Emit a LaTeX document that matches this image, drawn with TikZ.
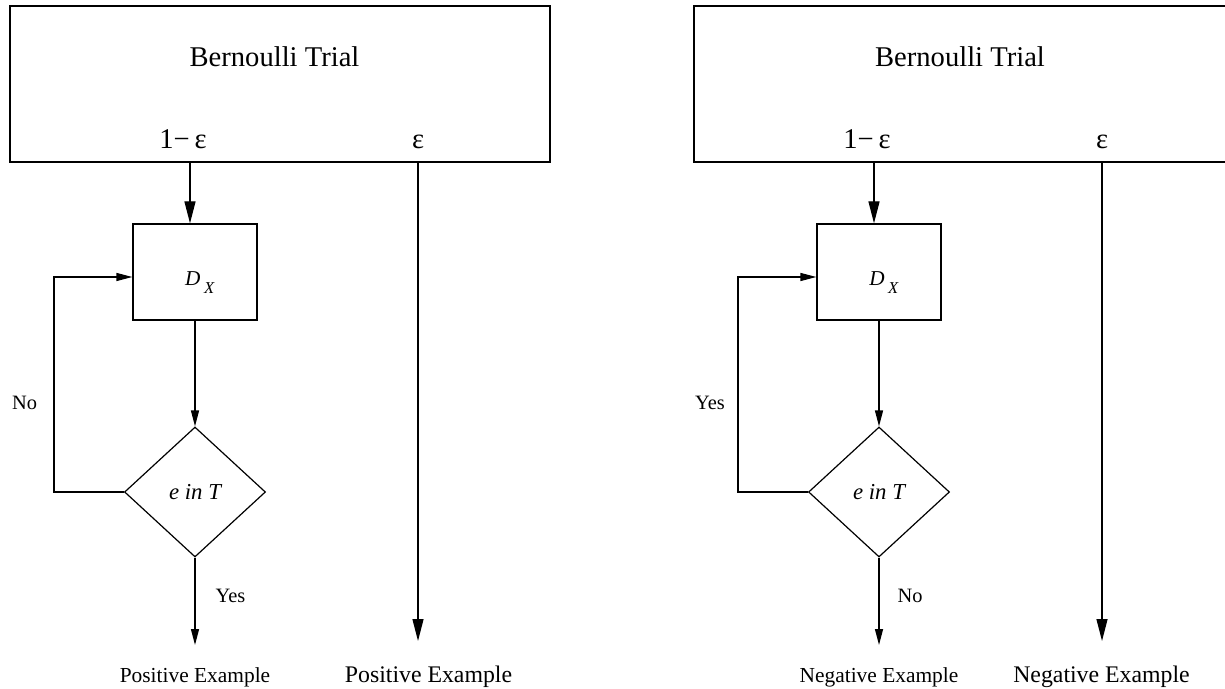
\documentclass[tikz,border=0pt]{standalone}
\usepackage{fontspec}
\setmainfont{Liberation Serif}
\usepackage{tikz}
\usetikzlibrary{shapes.geometric,arrows.meta}

\begin{document}
\begin{tikzpicture}[x=0.5pt,y=-0.5pt,
    trial/.style={rectangle,draw,line width=0.9pt,minimum width=270pt,minimum height=78pt,inner sep=0pt},
    sample/.style={rectangle,draw,line width=0.65pt,minimum width=62pt,minimum height=48pt,inner sep=0pt},
    test/.style={diamond,draw,line width=0.6pt,minimum width=70.5pt,minimum height=65pt,inner sep=0pt,
      font=\fontsize{11.4}{12}\selectfont\itshape},
    lbl/.style={anchor=base,inner sep=0pt},
    big/.style={font=\fontsize{14.3}{16}\selectfont},
    arr/.style={line width=0.65pt,-{Triangle[length=8pt,width=4pt]}},
    bigarr/.style={line width=0.65pt,-{Triangle[length=11pt,width=5.5pt]}}]
\useasboundingbox (0,0) rectangle (1225,689);
% left: positive examples
\node[trial] (trialL) at (280,84) {};
\node[lbl,big] (titleL) at (274.5,67) {Bernoulli Trial};
\node[lbl,big] (oneL) at (183,149) {1−\,ε};
\node[lbl,big] (epsL) at (418,149) {ε};
\node[sample] (dxL) at (195,272) {};
\node[lbl,font=\fontsize{10.6}{12}\selectfont] (dxtL) at (200,286) {\textit{D}\,\raisebox{-4pt}{\fontsize{8.3}{9}\selectfont\textit{X}}};
\node[test] (dL) at (195,492) {e in T};
\coordinate (backL) at (54,277);
\coordinate (endL) at (195,645);
\coordinate (epsendL) at (418,641);
\node[lbl,font=\fontsize{10.2}{12}\selectfont] (noL) at (24.5,409) {No};
\node[lbl,font=\fontsize{10.2}{12}\selectfont] (yesL) at (230.5,602) {Yes};
\node[lbl,font=\fontsize{10.7}{12}\selectfont] (posL) at (195,682) {Positive Example};
\node[lbl,font=\fontsize{11.9}{13}\selectfont] (posepsL) at (428.5,682) {Positive Example};
\draw[bigarr] ([xshift=-2.5pt]dxL.north |- trialL.south) -- ([xshift=-2.5pt]dxL.north);
\draw[arr] (dxL.south) -- (dL.north);
\draw[arr] (dL.west) -| (backL) -- (dxL.west |- backL);
\draw[arr] (dL.south) -- (endL);
\draw[bigarr] (trialL.south -| epsendL) -- (epsendL);
% right: negative examples
\node[trial] (trialR) at (964,84) {};
\node[lbl,big] (titleR) at (960,67) {Bernoulli Trial};
\node[lbl,big] (oneR) at (867,149) {1−\,ε};
\node[lbl,big] (epsR) at (1102,149) {ε};
\node[sample] (dxR) at (879,272) {};
\node[lbl,font=\fontsize{10.6}{12}\selectfont] (dxtR) at (884,286) {\textit{D}\,\raisebox{-4pt}{\fontsize{8.3}{9}\selectfont\textit{X}}};
\node[test] (dR) at (879,492) {e in T};
\coordinate (backR) at (738,277);
\coordinate (endR) at (879,645);
\coordinate (epsendR) at (1102,641);
\node[lbl,font=\fontsize{10.2}{12}\selectfont] (yesR) at (710,409) {Yes};
\node[lbl,font=\fontsize{10.2}{12}\selectfont] (noR) at (910,602) {No};
\node[lbl,font=\fontsize{10.7}{12}\selectfont] (negR) at (879,682) {Negative Example};
\node[lbl,font=\fontsize{11.9}{13}\selectfont] (negepsR) at (1101.5,682) {Negative Example};
\draw[bigarr] ([xshift=-2.5pt]dxR.north |- trialR.south) -- ([xshift=-2.5pt]dxR.north);
\draw[arr] (dxR.south) -- (dR.north);
\draw[arr] (dR.west) -| (backR) -- (dxR.west |- backR);
\draw[arr] (dR.south) -- (endR);
\draw[bigarr] (trialR.south -| epsendR) -- (epsendR);
\end{tikzpicture}
\end{document}
